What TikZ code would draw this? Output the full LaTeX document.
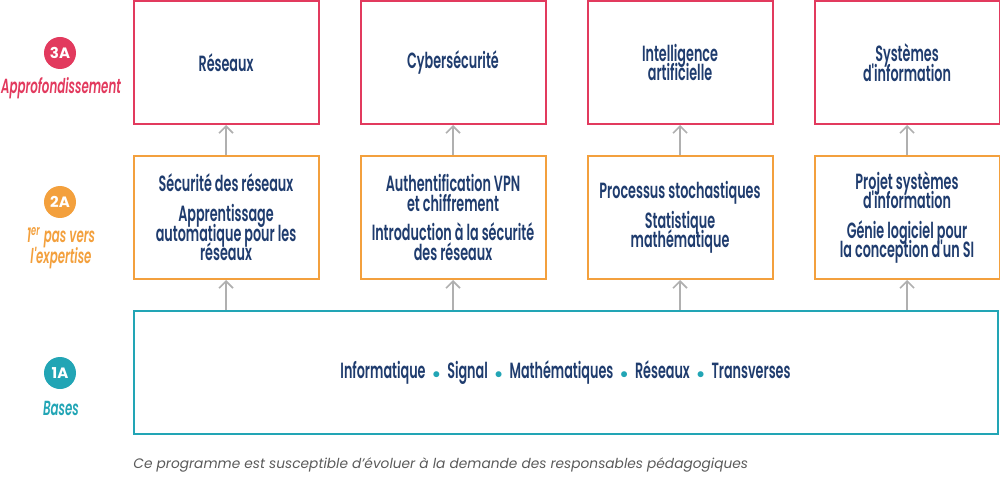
\documentclass[tikz,border=0pt]{standalone}
\usepackage{fontspec}
\setmainfont{Poppins}
\newfontfamily\condfont{Poppins SemiBold}[FakeStretch=0.58, ItalicFont=Poppins SemiBold Italic]
\usetikzlibrary{positioning,arrows.meta}
\definecolor{myred}{HTML}{E23A5E}
\definecolor{myorange}{HTML}{F3A03D}
\definecolor{myteal}{HTML}{22A5B5}
\definecolor{mynavy}{HTML}{1F3C6E}
\definecolor{mygray}{HTML}{B0B0B0}
\definecolor{mynote}{HTML}{5A5A5A}
\newcommand{\dotsep}{\hspace{3.5pt}{\color{myteal}\scalebox{0.7}{$\bullet$}}\hspace{3.5pt}}
\newcommand{\gap}{\\[5pt]}
\newcommand{\tightlines}{\lineskiplimit -20pt\relax}

\begin{document}
\begin{tikzpicture}[x=0.5pt, y=0.5pt,
    box/.style={draw, line width=1pt, minimum width=92.5pt, minimum height=61.5pt,
      align=center, inner sep=2pt, text=mynavy,
      font={\condfont\fontsize{11}{9.8}\selectfont\tightlines}},
    adv/.style={box, draw=myred},
    mid/.style={box, draw=myorange},
    arr/.style={draw=mygray, line width=0.8pt, -{Straight Barb[length=3.5pt,width=7pt]}},
    badge/.style={circle, minimum size=16pt, inner sep=0pt, text=white,
      font=\bfseries\fontsize{7.5}{8}\selectfont},
    year/.style={align=center, font={\condfont\itshape\fontsize{10.2}{10.5}\selectfont\tightlines}}]
    \useasboundingbox (0,0) rectangle (1000,477);

    % 3A
    \node[adv] (reseaux) at (226,414.5) {R\'eseaux};
    \node[adv, right=20pt of reseaux] (cyber) {Cybers\'ecurit\'e};
    \node[adv, right=20pt of cyber] (ia) {Intelligence\\artificielle};
    \node[adv, right=20pt of ia] (si) {Syst\`emes\\d'information};

    % 2A
    \node[mid, below=15pt of reseaux] (secu) {S\'ecurit\'e des r\'eseaux\gap
      Apprentissage\\automatique pour les\\r\'eseaux};
    \node[mid, below=15pt of cyber] (vpn) {Authentification VPN\\et chiffrement\gap
      Introduction \`a la s\'ecurit\'e\\des r\'eseaux};
    \node[mid, below=15pt of ia] (stat) {Processus stochastiques\gap
      Statistique\\math\'ematique};
    \node[mid, below=15pt of si] (genie) {Projet syst\`emes\\d'information\gap
      G\'enie logiciel pour\\la conception d'un SI};

    % 1A
    \node[box, draw=myteal, minimum width=432pt,
      below=15pt of secu.south west, anchor=north west] (bases)
      {Informatique\dotsep Signal\dotsep Math\'ematiques\dotsep R\'eseaux\dotsep Transverses};

    \foreach \a/\b in {secu/reseaux, vpn/cyber, stat/ia, genie/si}{
      \draw[arr] (\a) -- (\b);
      \draw[arr] (bases.north -| \a) -- (\a);
    }

    % years
    \node[badge, fill=myred] (y3) at (60,424) {3A};
    \node[year, text=myred] (t3) at (61,389) {Approfondissement};
    \node[badge, fill=myorange] (y2) at (60,275) {2A};
    \node[year, text=myorange] (t2) at (61,229) {1\textsuperscript{er} pas vers\\l'expertise};
    \node[badge, fill=myteal] (y1) at (60,104) {1A};
    \node[year, text=myteal] (t1) at (61,69) {Bases};

    \node[anchor=west, inner sep=0pt, text=mynote, font=\itshape\fontsize{6.87}{8}\selectfont]
      (note) at (133,12) {Ce programme est susceptible d'\'evoluer \`a la demande des responsables p\'edagogiques};
\end{tikzpicture}
\end{document}
